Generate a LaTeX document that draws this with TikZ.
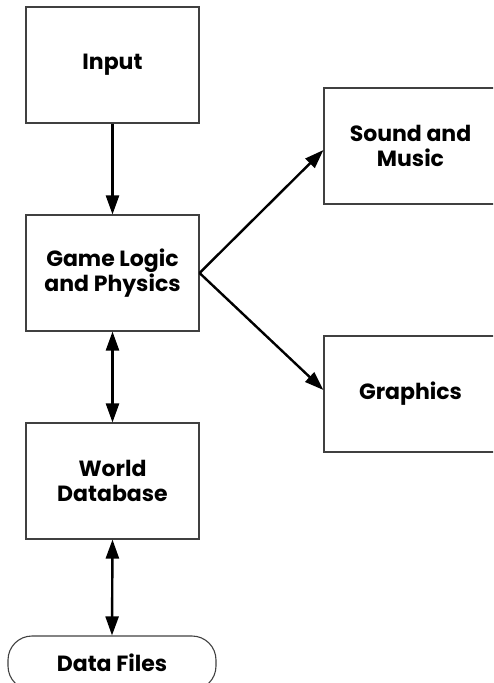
\documentclass[tikz,border=0pt]{standalone}
\usepackage{fontspec}
\setmainfont{Poppins}
\usetikzlibrary{arrows.meta}
\begin{document}
\begin{tikzpicture}[x=1pt,y=-1pt,
  box/.style={draw=black!75,line width=1.1pt,minimum width=173pt,minimum height=116pt,
    align=center,inner sep=0pt,font=\fontsize{22}{25}\selectfont\bfseries},
  term/.style={draw=black!75,line width=1.1pt,rounded corners=24pt,minimum width=208pt,minimum height=54pt,
    inner sep=0pt,font=\fontsize{22}{25}\selectfont\bfseries},
  tip/.style={Triangle[length=19pt,width=13pt]},
  conn/.style={line width=2.4pt,-{Triangle[length=19pt,width=13pt]}},
  bconn/.style={line width=2.4pt,{Triangle[length=19pt,width=13pt]}-{Triangle[length=19pt,width=13pt]}}]
\useasboundingbox (0,0) rectangle (493,683);
\begin{scope}
\clip (0,0) rectangle (493,683);
\node[box] (input) at (112.5,65) {Input};
\node[box] (game) at (112.5,273) {Game Logic\\and Physics};
\node[box] (world) at (112.5,481) {World\\Database};
\node[box] (sound) at (410.5,146) {Sound and\\Music};
\node[box] (graphics) at (410.5,394) {Graphics};
\node[term] (data) at (112,663) {Data Files};
\end{scope}
\draw[conn] (input.south) -- (game.north);
\draw[bconn] (game.south) -- (world.north);
\draw[bconn] (world.south) -- (data.north);
\draw[conn] (game.east) -- ([yshift=-4pt]sound.west);
\draw[conn] (game.east) -- ([yshift=4pt]graphics.west);
\end{tikzpicture}
\end{document}
